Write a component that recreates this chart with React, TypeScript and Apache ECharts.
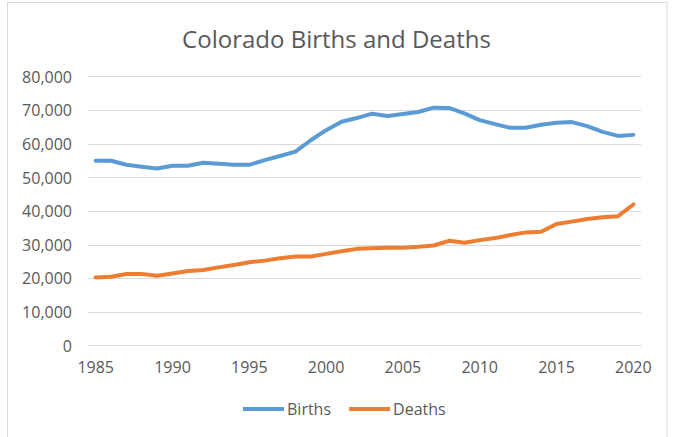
import React, { useEffect, useRef } from "react";
import * as echarts from "echarts";

const years: string[] = [
  "1985", "1986", "1987", "1988", "1989", "1990", "1991", "1992", "1993", "1994",
  "1995", "1996", "1997", "1998", "1999", "2000", "2001", "2002", "2003", "2004",
  "2005", "2006", "2007", "2008", "2009", "2010", "2011", "2012", "2013", "2014",
  "2015", "2016", "2017", "2018", "2019", "2020",
];

const births: number[] = [
  55000, 55000, 53800, 53200, 52700, 53500, 53500, 54400, 54100, 53800,
  53800, 55200, 56400, 57700, 61100, 64100, 66600, 67700, 69000, 68300,
  68900, 69500, 70800, 70700, 69100, 67100, 65900, 64800, 64800, 65700,
  66300, 66500, 65300, 63600, 62400, 62700,
];

const deaths: number[] = [
  20300, 20500, 21300, 21300, 20800, 21500, 22200, 22500, 23300, 24000,
  24800, 25300, 26000, 26500, 26500, 27300, 28100, 28800, 29000, 29100,
  29150, 29400, 29800, 31200, 30600, 31400, 32000, 32900, 33700, 33900,
  36200, 36900, 37700, 38200, 38500, 42000,
];

const yTicks = { min: 0, max: 80000, interval: 10000 };

const FONT = "'Open Sans', 'Liberation Sans', sans-serif";
const TEXT = "#595959";
const GRID = "#D9D9D9";

export default function App() {
  const ref = useRef<HTMLDivElement>(null);
  useEffect(() => {
    document.body.style.margin = "0";
    if (!ref.current) return;
    const chart = echarts.init(ref.current, undefined, { renderer: "svg" });
    chart.setOption({
      animation: false,
      backgroundColor: "#ffffff",
      textStyle: { fontFamily: FONT },
      title: {
        text: "Colorado Births and Deaths",
        left: "center",
        top: 21,
        textStyle: { fontFamily: FONT, fontSize: 24, fontWeight: "normal", color: TEXT },
      },
      graphic: [
        {
          type: "rect",
          shape: { x: 7.5, y: 2.5, width: 659.5, height: 440 },
          style: { fill: "none", stroke: GRID, lineWidth: 1 },
          silent: true,
        },
      ],
      legend: {
        data: ["Births", "Deaths"],
        left: 238,
        top: 396,
        icon: "rect",
        itemWidth: 41,
        itemHeight: 4,
        itemGap: 18,
        textStyle: { fontFamily: FONT, fontSize: 16, color: TEXT, padding: [0, 0, 0, -2] },
      },
      grid: { left: 88, right: 32, top: 76.7, bottom: 91.3, containLabel: false },
      xAxis: {
        type: "category",
        data: years,
        boundaryGap: true,
        axisLine: { show: true, lineStyle: { color: GRID, width: 1 } },
        axisTick: { show: false },
        axisLabel: { interval: 4, color: TEXT, fontSize: 16, fontFamily: FONT, margin: 13 },
        splitLine: { show: false },
      },
      yAxis: {
        type: "value",
        min: yTicks.min,
        max: yTicks.max,
        interval: yTicks.interval,
        axisLine: { show: false },
        axisTick: { show: false },
        axisLabel: {
          color: TEXT,
          fontSize: 16,
          fontFamily: FONT,
          margin: 16,
          formatter: (v: number) => v.toLocaleString("en-US"),
        },
        splitLine: { show: true, lineStyle: { color: GRID, width: 1 } },
      },
      series: [
        {
          name: "Births",
          type: "line",
          data: births,
          showSymbol: false,
          symbol: "none",
          lineStyle: { color: "#5B9BD5", width: 4, cap: "round", join: "round" },
          itemStyle: { color: "#5B9BD5" },
        },
        {
          name: "Deaths",
          type: "line",
          data: deaths,
          showSymbol: false,
          symbol: "none",
          lineStyle: { color: "#ED7D31", width: 4, cap: "round", join: "round" },
          itemStyle: { color: "#ED7D31" },
        },
      ],
    });
    return () => chart.dispose();
  }, []);
  return <div ref={ref} style={{ width: 673, height: 437 }} />;
}
